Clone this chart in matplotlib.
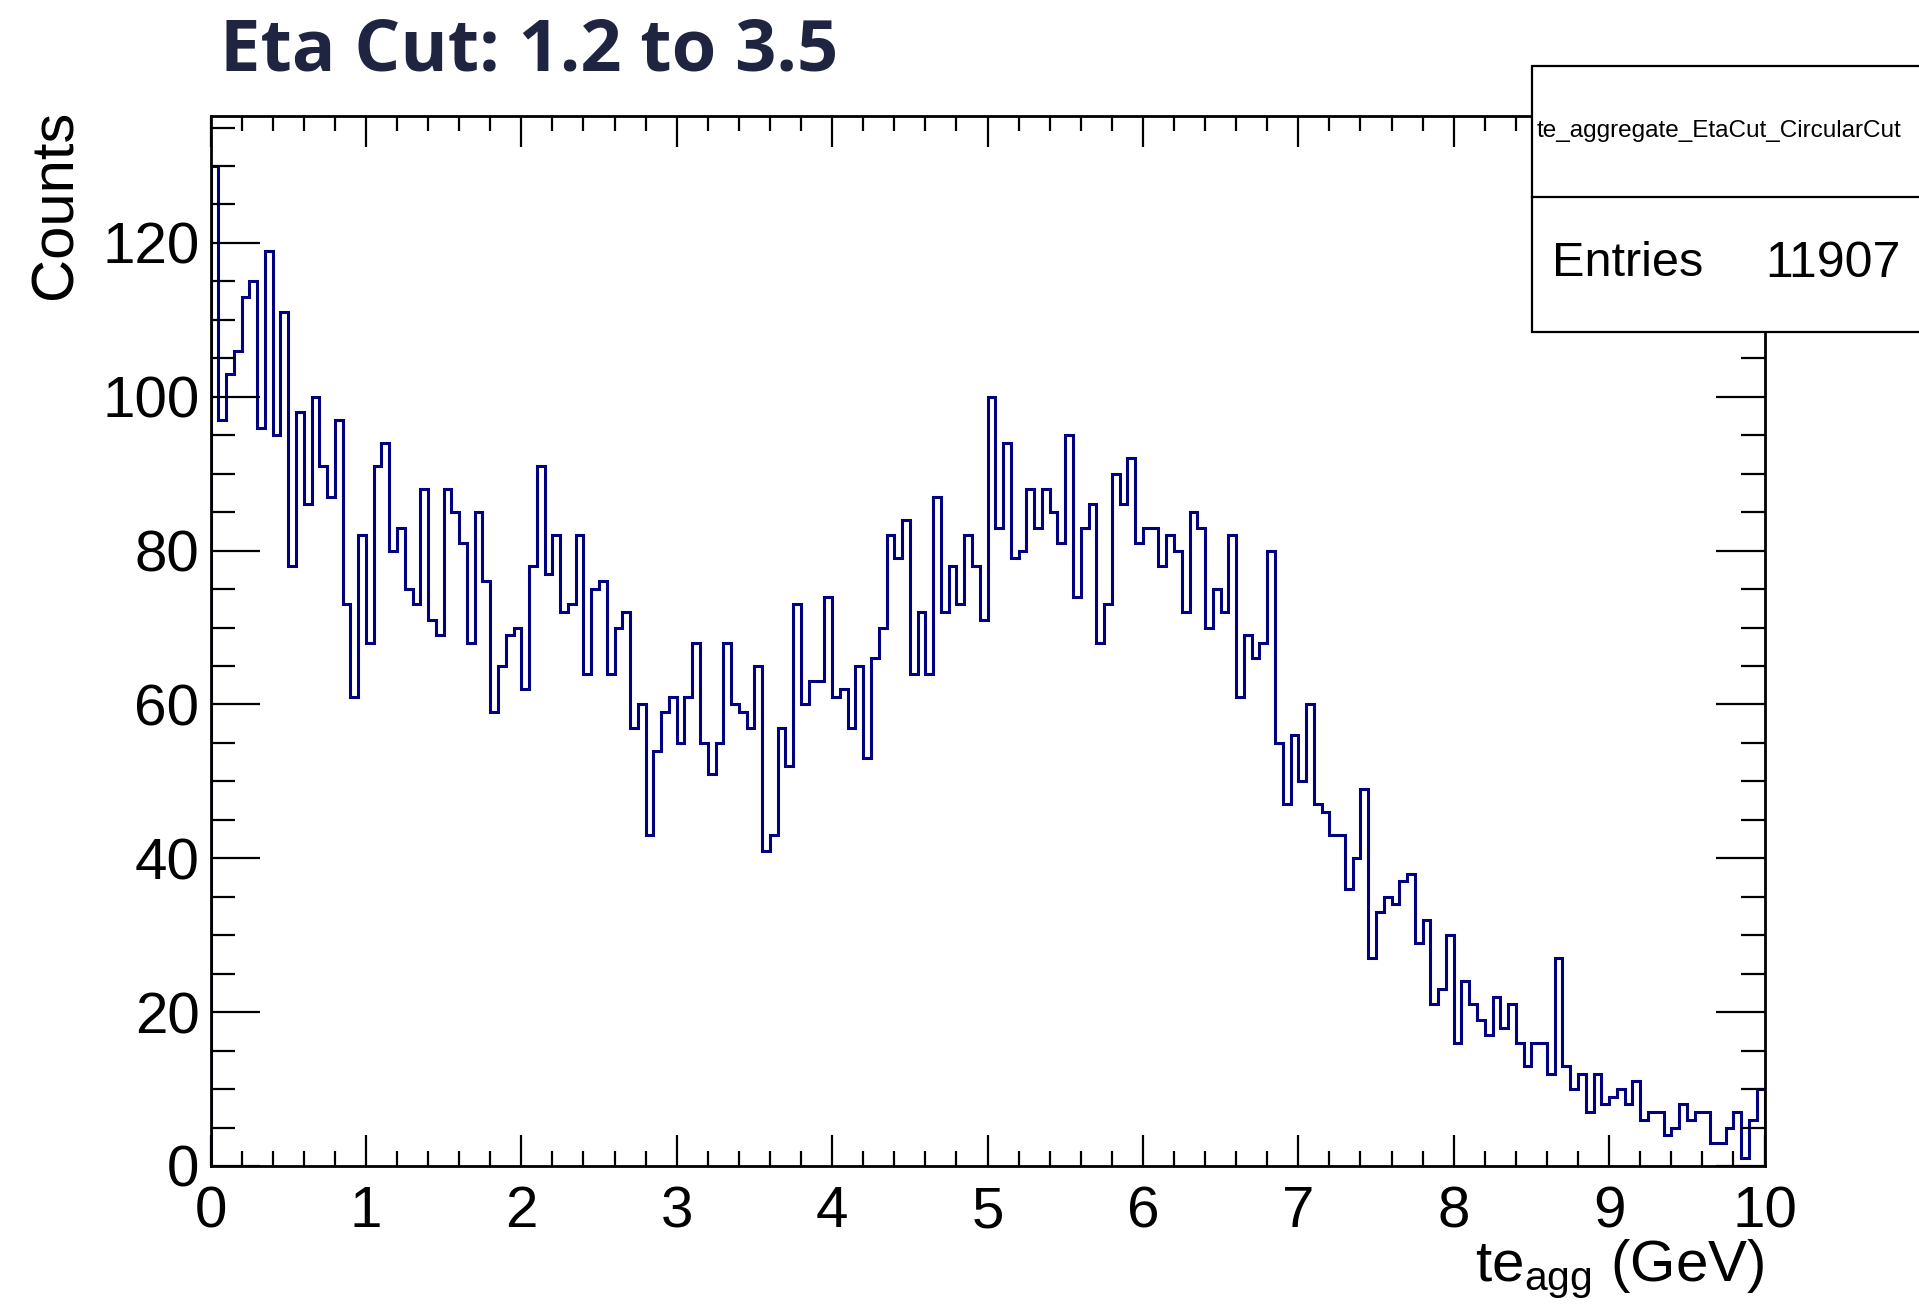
#!/usr/bin/env python3

import numpy as np
import matplotlib
matplotlib.use("Agg")
import matplotlib.pyplot as plt
from matplotlib.patches import Rectangle
from matplotlib.lines import Line2D
from matplotlib.ticker import MultipleLocator

# te_aggregate histogram, 200 bins over 0-10 GeV
x_min, x_max, n_bins = 0.0, 10.0, 200
counts = [
    130, 97, 103, 106, 113, 115, 96, 119, 95, 111,
    78, 98, 86, 100, 91, 87, 97, 73, 61, 82,
    68, 91, 94, 80, 83, 75, 73, 88, 71, 69,
    88, 85, 81, 68, 85, 76, 59, 65, 69, 70,
    62, 78, 91, 77, 82, 72, 73, 82, 64, 75,
    76, 64, 70, 72, 57, 60, 43, 54, 59, 61,
    55, 61, 68, 55, 51, 55, 68, 60, 59, 57,
    65, 41, 43, 57, 52, 73, 60, 63, 63, 74,
    61, 62, 57, 65, 53, 66, 70, 82, 79, 84,
    64, 72, 64, 87, 72, 78, 73, 82, 78, 71,
    100, 83, 94, 79, 80, 88, 83, 88, 85, 81,
    95, 74, 83, 86, 68, 73, 90, 86, 92, 81,
    83, 83, 78, 82, 80, 72, 85, 83, 70, 75,
    72, 82, 61, 69, 66, 68, 80, 55, 47, 56,
    50, 60, 47, 46, 43, 43, 36, 40, 49, 27,
    33, 35, 34, 37, 38, 29, 32, 21, 23, 30,
    16, 24, 21, 19, 17, 22, 18, 21, 16, 13,
    16, 16, 12, 27, 13, 10, 12, 7, 12, 8,
    9, 10, 8, 11, 6, 7, 7, 4, 5, 8,
    6, 7, 7, 3, 3, 5, 7, 1, 6, 10,
]

title = "Eta Cut: 1.2 to 3.5"
hist_name = "te_aggregate_EtaCut_CircularCut"
n_entries = 11907
x_label = r"te$_{\mathrm{agg}}$ (GeV)"
y_label = "Counts"

plt.rcParams["font.family"] = ["Liberation Sans", "DejaVu Sans"]
plt.rcParams["mathtext.fontset"] = "custom"
plt.rcParams["mathtext.rm"] = "Liberation Sans"

fig = plt.figure(figsize=(19.19, 13.06), dpi=100)
ax = fig.add_axes([0.1097, 0.1072, 0.8098, 0.8040])

edges = np.linspace(x_min, x_max, n_bins + 1)
ax.stairs(counts, edges, color="#000080", linewidth=2.2, baseline=0)

ax.set_xlim(x_min, x_max)
ax.set_ylim(0, max(counts) * 1.05)

# ROOT-style frame: ticks inside on all four sides
ax.xaxis.set_major_locator(MultipleLocator(1))
ax.xaxis.set_minor_locator(MultipleLocator(0.2))
ax.yaxis.set_major_locator(MultipleLocator(20))
ax.yaxis.set_minor_locator(MultipleLocator(5))
ax.tick_params(axis="both", which="both", direction="in", top=True, right=True,
               width=1.6, colors="black")
ax.tick_params(axis="x", which="major", length=22, pad=14, labelsize=42)
ax.tick_params(axis="x", which="minor", length=11)
ax.tick_params(axis="y", which="major", length=35, pad=8, labelsize=42)
ax.tick_params(axis="y", which="minor", length=17)
for spine in ax.spines.values():
    spine.set_linewidth(2.0)

ax.set_ylabel(y_label, fontsize=43, loc="top")
ax.yaxis.set_label_coords(-0.082, 1.006)
ax.set_xlabel(x_label, fontsize=42, loc="right")
ax.xaxis.set_label_coords(1.0, -0.068)
ax.xaxis.label.set_va("top")

fig.text(0.1146, 0.9464, title, fontsize=52, fontweight="bold",
         family="Open Sans", color="#1f2540", va="baseline", ha="left")

# stats box in the top-right corner, drawn over the frame
box_left, box_bottom, box_top, box_div = 0.7983, 0.7460, 0.9497, 0.8494
box = Rectangle((box_left, box_bottom), 0.25, box_top - box_bottom,
                transform=fig.transFigure, facecolor="white",
                edgecolor="black", linewidth=1.6, zorder=10, clip_on=False)
fig.add_artist(box)
fig.add_artist(Line2D([box_left, 1.0], [box_div, box_div],
                      transform=fig.transFigure, color="black",
                      linewidth=1.6, zorder=11))
fig.text(0.8008, 0.8999, hist_name, fontsize=17.5, va="center", ha="left",
         zorder=12)
fig.text(0.8087, 0.7979, "Entries", fontsize=35, va="center", ha="left",
         zorder=12)
fig.text(0.9906, 0.7979, str(n_entries), fontsize=36, va="center",
         ha="right", zorder=12)

fig.savefig("out.png", dpi=100, facecolor="white")
